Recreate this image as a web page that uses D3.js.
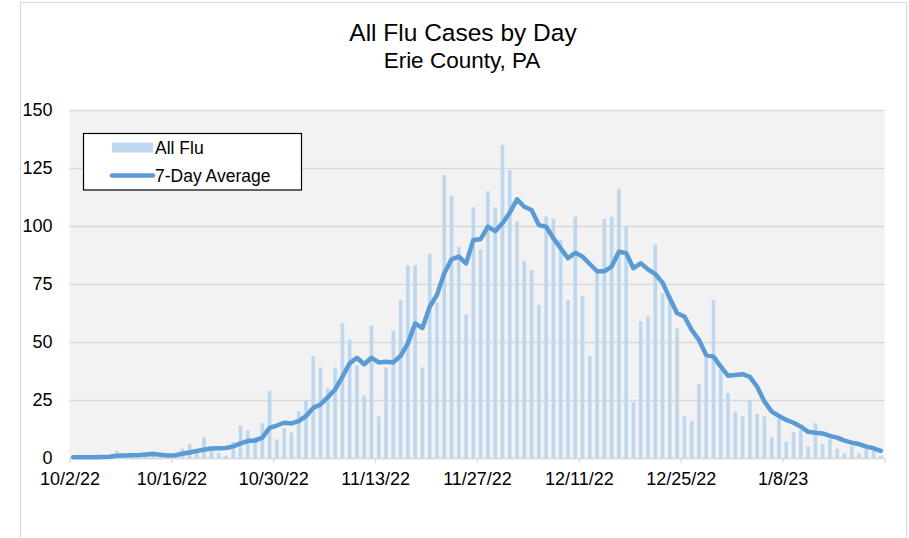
<!DOCTYPE html>
<html>
<head>
<meta charset="utf-8">
<script src="https://cdn.jsdelivr.net/npm/d3@7"></script>
<style>
  body { margin: 0; background: #fff; }
  svg { display: block; font-family: "Liberation Sans", Arial, sans-serif; }
</style>
</head>
<body>
<svg width="909" height="538"></svg>
<script>
// data, one value per day from 10/2/22
const startDay = "2022-10-02";
const allFlu = [
  0, 0, 0, 0, 1, 0, 3, 1, 1, 1, 2, 3, 1, 0, 1, 4, 6, 2, 9, 3,
  2, 1, 7, 14, 12, 9, 15, 29, 8, 13, 11, 20, 25, 44, 39, 30, 39, 58, 51, 40,
  27, 57, 18, 39, 55, 68, 83, 83, 39, 88, 67, 122, 113, 91, 62, 108, 90, 115, 108, 135,
  124, 102, 85, 81, 66, 104, 103, 94, 68, 104, 70, 44, 80, 103, 104, 116, 100, 24, 59, 61,
  92, 71, 70, 56, 18, 16, 32, 44, 68, 38, 28, 20, 18, 25, 19, 18, 9, 17, 7, 11,
  12, 5, 15, 6, 8, 4, 2, 5, 2, 4, 3, 1
];
const sevenDay = [
  0.3, 0.3, 0.3, 0.3, 0.4, 0.5, 1.0, 1.1, 1.2, 1.3, 1.5, 1.7, 1.4, 1.1, 1.2, 1.8, 2.4, 3.0, 3.6, 4.1,
  4.2, 4.3, 5.0, 6.3, 7.3, 7.5, 8.8, 13, 14, 15.2, 14.9, 15.9, 18, 21.6, 23.1, 26.2, 29.5, 35, 40.8, 43.2,
  40.4, 43.2, 41.2, 41.5, 41.2, 44, 49.4, 58, 56, 65.2, 70.3, 79.6, 85.6, 86.8, 83.9, 94, 94.3, 99.7, 97.8, 101.2,
  105.7, 111.5, 108.3, 106.9, 100.4, 99.7, 94.7, 90.4, 86.1, 88.5, 86.8, 83.6, 80.5, 80.5, 82.5, 88.9, 88.3, 81.8, 83.9, 81.3,
  79.3, 75.6, 68.8, 62.4, 61, 55.2, 50.9, 44.4, 43.7, 39.4, 35.5, 35.8, 36.1, 35, 30.7, 24.3, 20, 18.1, 16.4, 15.2,
  13.5, 11.3, 10.9, 10.6, 9.5, 8.8, 7.5, 6.6, 6.0, 4.9, 4.2, 3.1
];
const yTicks = [0, 25, 50, 75, 100, 125, 150];

const svg = d3.select("svg"),
    width = +svg.attr("width"),
    height = +svg.attr("height");

const start = new Date(startDay + "T00:00:00Z");
const days = d3.utcDay.range(start, d3.utcDay.offset(start, allFlu.length));
const end = d3.utcDay.offset(start, allFlu.length);
const data = days.map((d, i) => ({date: d, flu: allFlu[i], avg: sevenDay[i]}));

const x = d3.scaleUtc()
    .domain([start, end])
    .range([69.5, 884.5]);
const y = d3.scaleLinear()
    .domain([0, 150])
    .range([458, 110]);

const dayW = x(d3.utcDay.offset(start, 1)) - x(start);
const barW = dayW * 0.5;
const xMid = d => x(d) + dayW / 2;

// chart frame
svg.append("rect")
    .attr("x", 20.5).attr("y", 2.5)
    .attr("width", 886).attr("height", height)
    .attr("fill", "#fff")
    .attr("stroke", "#d9d9d9");

// plot area
svg.append("rect")
    .attr("x", x.range()[0]).attr("y", y(150))
    .attr("width", x.range()[1] - x.range()[0])
    .attr("height", y(0) - y(150))
    .attr("fill", "#f2f2f2");

// gridlines + y labels
const yAxis = svg.append("g")
    .attr("transform", `translate(${x.range()[0]},0)`)
    .call(d3.axisLeft(y)
        .tickValues(yTicks)
        .tickSize(-(x.range()[1] - x.range()[0]))
        .tickPadding(17));
yAxis.select(".domain").remove();
yAxis.selectAll("line").attr("stroke", "#d9d9d9").attr("stroke-width", 1.3);
yAxis.selectAll("text")
    .attr("fill", "#000")
    .style("font-size", "18px")
    .style("font-family", "Liberation Sans, Arial, sans-serif");

// bars
svg.append("g")
    .selectAll("rect")
    .data(data)
    .join("rect")
      .attr("x", d => xMid(d.date) - barW / 2)
      .attr("y", d => y(d.flu))
      .attr("width", barW)
      .attr("height", d => y(0) - y(d.flu))
      .attr("fill", "#bdd7ee");

// x axis, ticks every 14 days
const tickDates = d3.utcDay.range(start, d3.utcDay.offset(end, 1), 14);
const fmt = d3.utcFormat("%-m/%-d/%y");
const xAxis = svg.append("g")
    .attr("transform", `translate(0,${y(0)})`)
    .call(d3.axisBottom(x)
        .tickValues(tickDates)
        .tickSize(5)
        .tickSizeOuter(0)
        .tickPadding(9)
        .tickFormat(d => +d === +end ? "" : fmt(d)));
xAxis.select(".domain").attr("stroke", "#d9d9d9").attr("stroke-width", 1.3);
xAxis.selectAll("line").attr("stroke", "#d9d9d9").attr("stroke-width", 1.3);
xAxis.selectAll("text")
    .attr("fill", "#000")
    .style("font-size", "18px")
    .style("font-family", "Liberation Sans, Arial, sans-serif");

// 7-day average
svg.append("path")
    .datum(data)
    .attr("fill", "none")
    .attr("stroke", "#5b9bd5")
    .attr("stroke-width", 4.5)
    .attr("stroke-linejoin", "round")
    .attr("stroke-linecap", "round")
    .attr("d", d3.line().x(d => xMid(d.date)).y(d => y(d.avg)));

// titles
svg.append("text")
    .attr("x", 463).attr("y", 41)
    .attr("text-anchor", "middle")
    .style("font-size", "24.5px")
    .text("All Flu Cases by Day");
svg.append("text")
    .attr("x", 462).attr("y", 68)
    .attr("text-anchor", "middle")
    .style("font-size", "22.5px")
    .text("Erie County, PA");

// legend
const legend = svg.append("g");
legend.append("rect")
    .attr("x", 83.5).attr("y", 133.5)
    .attr("width", 218).attr("height", 56.5)
    .attr("fill", "#fff")
    .attr("stroke", "#000")
    .attr("stroke-width", 1.2);
legend.append("rect")
    .attr("x", 112).attr("y", 142.5)
    .attr("width", 41).attr("height", 10)
    .attr("fill", "#bdd7ee");
legend.append("line")
    .attr("x1", 112).attr("x2", 153)
    .attr("y1", 175.5).attr("y2", 175.5)
    .attr("stroke", "#5b9bd5")
    .attr("stroke-width", 4.5)
    .attr("stroke-linecap", "round");
legend.append("text")
    .attr("x", 155).attr("y", 153.5)
    .style("font-size", "17.5px")
    .text("All Flu");
legend.append("text")
    .attr("x", 155).attr("y", 182)
    .style("font-size", "17.5px")
    .text("7-Day Average");
</script>
</body>
</html>
